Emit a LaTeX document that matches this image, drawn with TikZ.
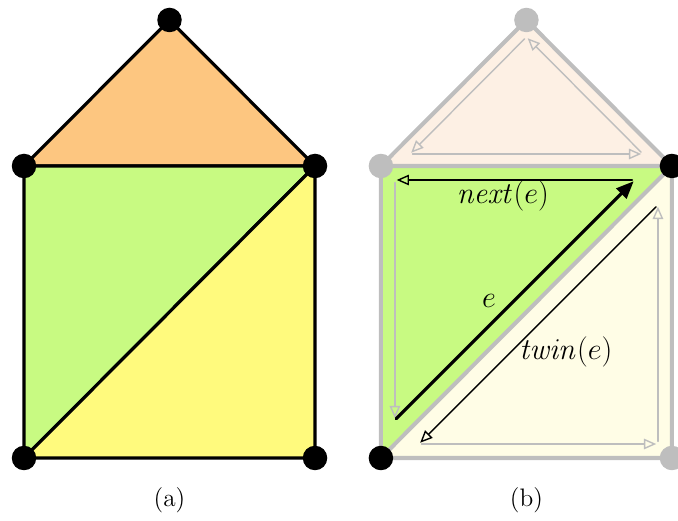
\documentclass[tikz,border=0pt]{standalone}
\usepackage{amsmath}
\usepackage{xcolor}
\usetikzlibrary{arrows.meta}

\definecolor{faceTop}{RGB}{253,198,128}
\definecolor{faceLeft}{RGB}{200,250,130}
\definecolor{faceRight}{RGB}{255,250,125}
\definecolor{fadeTop}{RGB}{253,240,228}
\definecolor{fadeRight}{RGB}{255,253,230}
\definecolor{edgeGray}{RGB}{190,190,190}

\begin{document}
\begin{tikzpicture}[
    x=0.02cm, y=0.02cm,
    line cap=round,
    line join=round,
    edge/.style={line width=1.8pt},
    grayedge/.style={line width=2.3pt, draw=edgeGray},
    vtx/.style={circle, fill=black, inner sep=0pt, minimum size=0.49cm},
    grayvtx/.style={vtx, fill=edgeGray},
    half/.style={line width=0.8pt, draw=edgeGray, shorten <=1.5pt, shorten >=1pt,
        -{Triangle[open,length=7pt,width=6pt]}},
    halfdark/.style={half, draw=black},
    halfmain/.style={line width=1.8pt, shorten <=1pt, shorten >=1pt,
        -{Triangle[length=10pt,width=8pt]}},
    caption/.style={font=\Large},
    label/.style={font=\fontsize{16}{19}\selectfont}
]
\useasboundingbox (-24,-62) rectangle (654,458);

% 1. Subdivision (a)
\coordinate (a-bl) at (0,0);
\coordinate (a-br) at (291,0);
\coordinate (a-tr) at (291,292);
\coordinate (a-tl) at (0,292);
\coordinate (a-ap) at (145.5,438);
\filldraw[fill=faceTop, edge] (a-tl) -- (a-tr) -- (a-ap) -- cycle;
\filldraw[fill=faceLeft, edge] (a-tl) -- (a-tr) -- (a-bl) -- cycle;
\filldraw[fill=faceRight, edge] (a-bl) -- (a-br) -- (a-tr) -- cycle;
\foreach \v in {bl,br,tr,tl,ap}
    \node[vtx] (a-dot-\v) at (a-\v) {};
\node[caption] (a-cap) at (145.5,-42) {(a)};

% 2. Half-edges (b)
\begin{scope}[xshift=7.14cm]
\coordinate (b-bl) at (0,0);
\coordinate (b-br) at (291,0);
\coordinate (b-tr) at (291,292);
\coordinate (b-tl) at (0,292);
\coordinate (b-ap) at (145.5,438);
\fill[fadeTop] (b-tl) -- (b-tr) -- (b-ap) -- cycle;
\fill[faceLeft] (b-tl) -- (b-tr) -- (b-bl) -- cycle;
\fill[fadeRight] (b-bl) -- (b-br) -- (b-tr) -- cycle;
\draw[grayedge] (b-bl) -- (b-br) -- (b-tr) -- (b-ap) -- (b-tl) -- cycle;
\draw[grayedge] (b-tl) -- (b-tr) -- (b-bl);

% inner corners of each face
\coordinate (t1) at (29,304);
\coordinate (t2) at (262,304);
\coordinate (t3) at (145.5,421);
\coordinate (g1) at (14,278);
\coordinate (g2) at (254,278);
\coordinate (g3) at (14,38);
\coordinate (y1) at (38,14);
\coordinate (y2) at (277,14);
\coordinate (y3) at (277,253);

\draw[half] (t3) -- (t1);
\draw[half] (t1) -- (t2);
\draw[half] (t2) -- (t3);
\draw[half] (g1) -- (g3);
\draw[halfdark] (g2) -- (g1);
\draw[halfmain] (g3) -- (g2);
\draw[halfdark] (y3) -- (y1);
\draw[half] (y1) -- (y2);
\draw[half] (y2) -- (y3);

\node[label] (lbl-next) at (122,262) {$\mathit{next}(e)$};
\node[label] (lbl-e) at (108,157) {$e$};
\node[label] (lbl-twin) at (185,106) {$\mathit{twin}(e)$};

\foreach \v in {tl,br,ap}
    \node[grayvtx] (b-dot-\v) at (b-\v) {};
\foreach \v in {bl,tr}
    \node[vtx] (b-dot-\v) at (b-\v) {};
\node[caption] (b-cap) at (145.5,-42) {(b)};
\end{scope}
\end{tikzpicture}
\end{document}
